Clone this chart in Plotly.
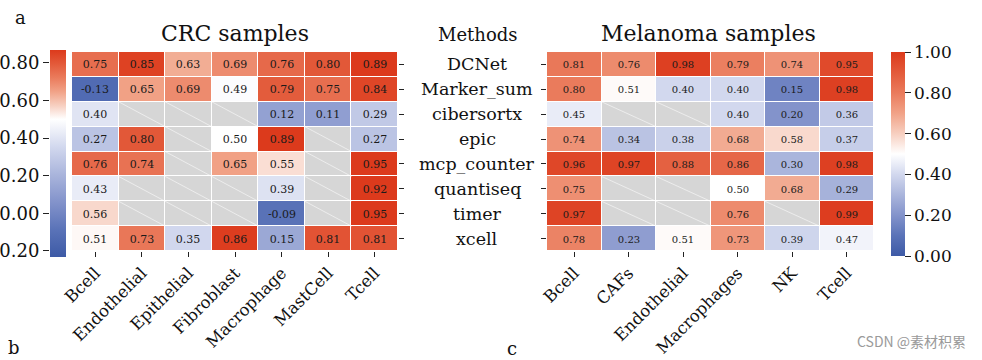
import plotly.graph_objects as go

W, H = 982, 360
FONT = "DejaVu Serif"

methods = ["DCNet", "Marker_sum", "cibersortx", "epic", "mcp_counter", "quantiseq", "timer", "xcell"]

crc_cells = ["Bcell", "Endothelial", "Epithelial", "Fibroblast", "Macrophage", "MastCell", "Tcell"]
crc_values = [
    [0.75, 0.85, 0.63, 0.69, 0.76, 0.80, 0.89],
    [-0.13, 0.65, 0.69, 0.49, 0.79, 0.75, 0.84],
    [0.40, None, None, None, 0.12, 0.11, 0.29],
    [0.27, 0.80, None, 0.50, 0.89, None, 0.27],
    [0.76, 0.74, None, 0.65, 0.55, None, 0.95],
    [0.43, None, None, None, 0.39, None, 0.92],
    [0.56, None, None, None, -0.09, None, 0.95],
    [0.51, 0.73, 0.35, 0.86, 0.15, 0.81, 0.81],
]

mel_cells = ["Bcell", "CAFs", "Endothelial", "Macrophages", "NK", "Tcell"]
mel_values = [
    [0.81, 0.76, 0.98, 0.79, 0.74, 0.95],
    [0.80, 0.51, 0.40, 0.40, 0.15, 0.98],
    [0.45, None, None, 0.40, 0.20, 0.36],
    [0.74, 0.34, 0.38, 0.68, 0.58, 0.37],
    [0.96, 0.97, 0.88, 0.86, 0.30, 0.98],
    [0.75, None, None, 0.50, 0.68, 0.29],
    [0.97, None, None, 0.76, None, 0.99],
    [0.78, 0.23, 0.51, 0.73, 0.39, 0.47],
]

crc_range = [-0.232, 0.868]
crc_tickvals = [-0.2, 0.0, 0.2, 0.4, 0.6, 0.8]
crc_ticktext = ["0.20", "0.00", "0.20", "0.40", "0.60", "0.80"]
mel_range = [0.0, 1.0]
mel_tickvals = [0.0, 0.2, 0.4, 0.6, 0.8, 1.0]
mel_ticktext = ["0.00", "0.20", "0.40", "0.60", "0.80", "1.00"]
CENTER = 0.5

base = [
    (0.00, "#3d5aa6"), (0.10, "#5a73b8"), (0.20, "#8393cb"), (0.30, "#aab5dc"),
    (0.40, "#d2d8ee"), (0.50, "#ffffff"), (0.60, "#f7cfc0"), (0.70, "#f1a287"),
    (0.80, "#ea7b5c"), (0.90, "#e35a3a"), (1.00, "#dc3a1c"),
]


def scale_for(rng):
    w = (CENTER - rng[0]) / (rng[1] - rng[0])
    out = []
    for t, c in base:
        if t <= 0.5:
            p = t / 0.5 * w
        else:
            p = w + (t - 0.5) / 0.5 * (1 - w)
        out.append([p, c])
    return out


def px(x):
    return x / W


def py(y):
    return 1 - y / H


fig = go.Figure()


def add_heat(cells, values, rng, xa, ya, fsize, cbar):
    nan_z = [[1 if v is None else None for v in row] for row in values]
    fig.add_trace(go.Heatmap(
        x=cells, y=methods, z=nan_z, xaxis=xa, yaxis=ya,
        colorscale=[[0, "#d6d6d6"], [1, "#d6d6d6"]], showscale=False,
        xgap=1, ygap=1, hoverinfo="skip"))
    text = [["" if v is None else f"{v:.2f}" for v in row] for row in values]
    fig.add_trace(go.Heatmap(
        x=cells, y=methods, z=values, xaxis=xa, yaxis=ya,
        zmin=rng[0], zmax=rng[1], colorscale=scale_for(rng),
        text=text, texttemplate="%{text}",
        textfont=dict(family=FONT, size=fsize, color="#1a1a1a"),
        xgap=1, ygap=1, colorbar=cbar))
    xr = "x" if xa == "x" else "x2"
    yr = "y" if ya == "y" else "y2"
    for i, row in enumerate(values):
        for j, v in enumerate(row):
            if v is None:
                fig.add_shape(type="line", xref=xr, yref=yr,
                              x0=j - 0.5, x1=j + 0.5, y0=i - 0.5, y1=i + 0.5,
                              line=dict(color="rgba(255,255,255,0.55)", width=1))


add_heat(crc_cells, crc_values, crc_range, "x", "y", 11, dict(
    x=px(50), xanchor="left", y=py(50), yanchor="top", len=207 / H, lenmode="fraction",
    thickness=16, xpad=0, ypad=0, outlinewidth=0, showticklabels=False, ticks=""))
add_heat(mel_cells, mel_values, mel_range, "x2", "y2", 10, dict(
    x=px(891), xanchor="left", y=py(52), yanchor="top", len=204 / H, lenmode="fraction",
    thickness=14, xpad=0, ypad=0, outlinewidth=0, ticks="outside", ticklen=6,
    tickwidth=1, tickcolor="#222", tickvals=mel_tickvals, ticktext=mel_ticktext,
    tickfont=dict(family=FONT, size=17, color="#111")))

# axis for left colorbar labels
fig.add_trace(go.Scatter(x=[None], y=[None], xaxis="x3", yaxis="y3", showlegend=False,
                         hoverinfo="skip"))

tickfont_x = dict(family=FONT, size=16.5, color="#111")
common_x = dict(tickangle=-45, ticks="outside", ticklen=5, tickwidth=1, tickcolor="#222",
                tickfont=tickfont_x, showgrid=False, zeroline=False, showline=False,
                automargin=False)
common_y = dict(autorange="reversed", ticks="outside", ticklen=5, tickwidth=1,
                tickcolor="#222", showticklabels=False, showgrid=False, zeroline=False,
                showline=False, automargin=False)

fig.update_layout(
    width=W, height=H, margin=dict(l=0, r=0, t=0, b=0, autoexpand=False),
    paper_bgcolor="white", plot_bgcolor="white", showlegend=False,
    font=dict(family=FONT, color="#111"),
    xaxis=dict(domain=[px(72), px(398)], anchor="y", **common_x),
    yaxis=dict(domain=[py(251), py(52)], anchor="x", side="right", **common_y),
    xaxis2=dict(domain=[px(547), px(874)], anchor="y2", **common_x),
    yaxis2=dict(domain=[py(251), py(52)], anchor="x2", side="left", **common_y),
    xaxis3=dict(domain=[px(50), px(66)], anchor="y3", visible=False, range=[0, 1]),
    yaxis3=dict(domain=[py(257), py(50)], anchor="x3", side="left", range=crc_range,
                tickvals=crc_tickvals, ticktext=crc_ticktext, ticks="outside", ticklen=6,
                tickwidth=1, tickcolor="#222", showgrid=False, zeroline=False,
                showline=False, automargin=False,
                tickfont=dict(family=FONT, size=18, color="#111")),
)

ann = []
for m in methods:
    ann.append(dict(x=px(477), y=m, xref="paper", yref="y", text=m, showarrow=False,
                    xanchor="center", yanchor="middle", font=dict(family=FONT, size=17.5)))
ann += [
    dict(x=px(235), y=py(33), text="CRC samples", font=dict(family=FONT, size=22)),
    dict(x=px(708), y=py(33), text="Melanoma samples", font=dict(family=FONT, size=22)),
    dict(x=px(478), y=py(35), text="Methods", font=dict(family=FONT, size=18)),
    dict(x=px(20), y=py(17), text="a", font=dict(family=FONT, size=18)),
    dict(x=px(14), y=py(347), text="b", font=dict(family=FONT, size=18)),
    dict(x=px(512), y=py(348), text="c", font=dict(family=FONT, size=18)),
    dict(x=px(968), y=py(341), text="CSDN @素材积累", xanchor="right",
         font=dict(family="Noto Sans CJK SC", size=14, color="#9a9a9a")),
]
for a in ann[len(methods):]:
    a.update(xref="paper", yref="paper", showarrow=False)
    a.setdefault("xanchor", "center")
    a.setdefault("yanchor", "middle")
fig.update_layout(annotations=ann)

fig.write_html("out.html", config={"displayModeBar": False},
               post_script="document.body.style.margin='0px';")
